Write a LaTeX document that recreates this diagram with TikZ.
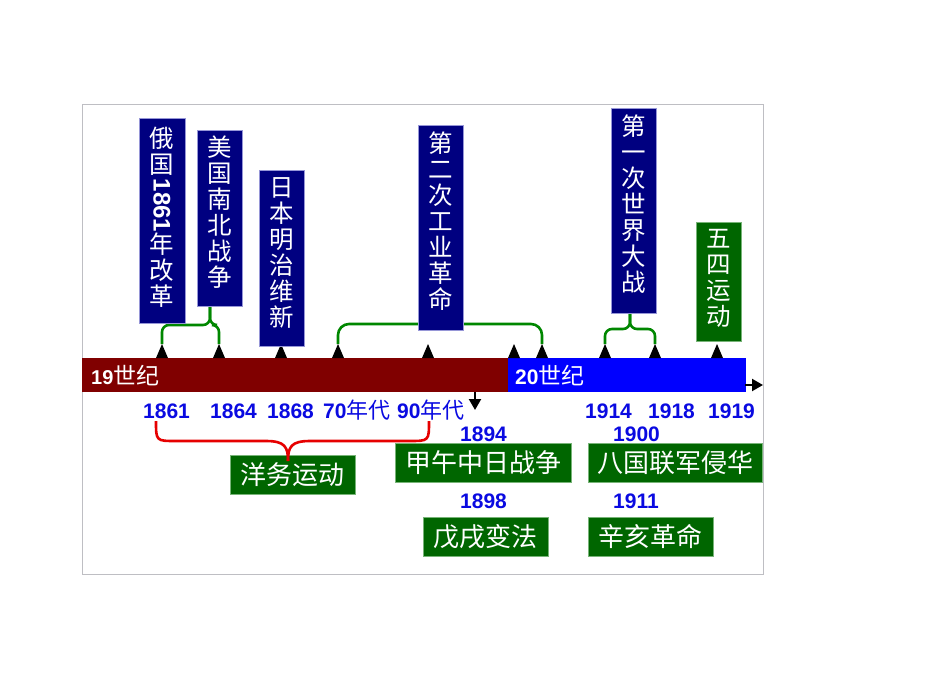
\documentclass[tikz,border=0pt]{standalone}
\usepackage{fontspec}
\setmainfont{Liberation Sans}
\newfontfamily\cjk{Noto Sans CJK SC}
\newfontfamily\lat{Liberation Sans}
\usepackage{graphicx}
\usetikzlibrary{arrows.meta}
\definecolor{barred}{RGB}{128,0,0}
\definecolor{barblue}{RGB}{0,0,255}
\definecolor{navy}{RGB}{0,0,128}
\definecolor{navyedge}{RGB}{150,150,215}
\definecolor{boxgreen}{RGB}{0,102,0}
\definecolor{greenedge}{RGB}{120,180,120}
\definecolor{brgreen}{RGB}{0,135,0}
\definecolor{bracered}{RGB}{230,0,0}
\definecolor{yearblue}{RGB}{10,10,225}
\definecolor{framegray}{RGB}{190,190,195}
\tikzset{
  navybox/.style={fill=navy, draw=navyedge, line width=0.8pt, inner sep=0pt, outer sep=0pt},
  greenbox/.style={fill=boxgreen, draw=greenedge, line width=0.8pt, inner sep=0pt, outer sep=0pt},
  vtext/.style={text=white, font=\cjk\fontsize{24.5}{26}\selectfont, align=center, inner sep=0pt},
  htext/.style={text=white, font=\cjk\fontsize{26}{26}\selectfont, inner sep=0pt},
  yr/.style={text=yearblue, font=\lat\bfseries\fontsize{21}{21}\selectfont, inner sep=0pt, anchor=base west},
  barlbl/.style={text=white, font=\lat\bfseries\fontsize{21}{21}\selectfont, inner sep=0pt, anchor=base west},
  brk/.style={draw=brgreen, line width=2.6pt, rounded corners=7pt},
  bracepath/.style={draw=bracered, line width=2.6pt},
  tipmark/.style={fill=black},
  arr/.style={draw=black, line width=2.2pt, -{Triangle[length=11pt,width=12pt]}},
}
\newcommand\tipat[1]{\fill[tipmark] (#1) -- ++(-6,14) -- ++(12,0) -- cycle;}
\begin{document}
\begin{tikzpicture}[x=1pt,y=-1pt]
\useasboundingbox (0,0) rectangle (950,672);
\fill[white] (0,0) rectangle (950,672);
\draw[framegray, line width=1pt] (82,104) rectangle (763,574);

% timeline bars
\node[fill=barred, minimum width=426pt, minimum height=34pt, inner sep=0pt, outer sep=0pt, anchor=north west] (bar19) at (82,358) {};
\node[fill=barblue, minimum width=238pt, minimum height=34pt, inner sep=0pt, outer sep=0pt, anchor=north west] (bar20) at (508,358) {};
\node[barlbl] (c19) at (91,384) {{\fontsize{20}{20}\selectfont 19}{\cjk\mdseries\fontsize{23}{23}\selectfont 世纪}};
\node[barlbl] (c20) at (515,384) {20{\cjk\mdseries\fontsize{23}{23}\selectfont 世纪}};

% arrows
\coordinate (arrS) at (745,385);
\coordinate (arrE) at (763,385);
\draw[arr] (arrS) -- (arrE);
\coordinate (dnS) at (475,392);
\coordinate (dnE) at (475,410);
\draw[arr] (dnS) -- (dnE);

% tick marks (apex coordinates)
\coordinate (t1) at (162,344);
\coordinate (t2) at (219,344);
\coordinate (t3) at (281,344);
\coordinate (t4) at (338,344);
\coordinate (t5) at (428,344);
\coordinate (t6) at (514,344);
\coordinate (t7) at (542,344);
\coordinate (t8) at (605,344);
\coordinate (t9) at (655,344);
\coordinate (t10) at (717,344);

% green brackets
\coordinate (s1) at (210,306);
\draw[brk] (s1) -- (210,325) -- (162,325) -- (t1);
\draw[brk] (s1) -- (210,325) -- (219,325) -- (t2);
\draw[brk, rounded corners=11pt] (t4) -- (338,324) -- (542,324) -- (t7);
\coordinate (s5) at (630,313);
\draw[brk] (s5) -- (630,329) -- (605,329) -- (t8);
\draw[brk] (s5) -- (630,329) -- (655,329) -- (t9);

\foreach \t in {t1,t2,t3,t4,t5,t6,t7,t8,t9,t10} {\tipat{\t}}

% upper boxes
\node[navybox, minimum width=46pt, minimum height=205pt] (b1) at (162,220.5) {};
\node[vtext] (b1t) at (b1.center) [yshift=3pt] {俄\\国\\[-21pt]\rotatebox{-90}{\lat\bfseries\fontsize{24}{24}\selectfont 1861}\\年\\改\\革};
\node[navybox, minimum width=45pt, minimum height=176pt] (b2) at (219.5,218) {};
\node[vtext] (b2t) at (b2.center) [yshift=6pt] {美\\国\\南\\北\\战\\争};
\node[navybox, minimum width=45pt, minimum height=176pt] (b3) at (281.5,258) {};
\node[vtext] (b3t) at (b3.center) [yshift=5pt] {日\\本\\明\\治\\维\\新};
\node[navybox, minimum width=45pt, minimum height=205pt] (b4) at (440.5,227.5) {};
\node[vtext] (b4t) at (b4.center) [yshift=6pt] {第\\二\\次\\工\\业\\革\\命};
\node[navybox, minimum width=45pt, minimum height=205pt] (b5) at (633.5,210.5) {};
\node[vtext] (b5t) at (b5.center) [yshift=6pt] {第\\一\\次\\世\\界\\大\\战};
\node[greenbox, minimum width=45pt, minimum height=119pt] (b6) at (718.5,281.5) {};
\node[vtext] (b6t) at (b6.center) [yshift=3pt] {五\\四\\运\\动};

% year labels
\node[yr] (y1861) at (143,418) {1861};
\node[yr] (y1864) at (210,418) {1864};
\node[yr] (y1868) at (267,418) {1868};
\node[yr] (y70) at (323,418) {70{\cjk\mdseries\fontsize{22}{22}\selectfont 年代}};
\node[yr] (y90) at (397,418) {90{\cjk\mdseries\fontsize{22}{22}\selectfont 年代}};
\node[yr] (y1914) at (585,418) {1914};
\node[yr] (y1918) at (648,418) {1918};
\node[yr] (y1919) at (708,418) {1919};
\node[yr] (y1894) at (460,441) {1894};
\node[yr] (y1900) at (613,441) {1900};
\node[yr] (y1898) at (460,508) {1898};
\node[yr] (y1911) at (613,508) {1911};

% lower boxes
\node[greenbox, minimum width=125pt, minimum height=39pt] (g1) at (292.5,474.5) {};
\node[htext] (g1t) at (g1.center) {洋务运动};
\node[greenbox, minimum width=176pt, minimum height=39pt] (g2) at (483,462.5) {};
\node[htext] (g2t) at (g2.center) {甲午中日战争};
\node[greenbox, minimum width=125pt, minimum height=39pt] (g3) at (485.5,536.5) {};
\node[htext] (g3t) at (g3.center) {戊戌变法};
\node[greenbox, minimum width=174pt, minimum height=39pt] (g4) at (675,462.5) {};
\node[htext] (g4t) at (g4.center) {八国联军侵华};
\node[greenbox, minimum width=125pt, minimum height=39pt] (g5) at (650.5,536.5) {};
\node[htext] (g5t) at (g5.center) {辛亥革命};

% red brace
\coordinate (rbL) at (156,421);
\coordinate (rbR) at (429,421);
\coordinate (rbT) at (288,461);
\draw[bracepath] (rbL) .. controls (156,441) and (156,441) .. (176,441) -- (266,441) .. controls (285,441) and (288,447) .. (rbT);
\draw[bracepath] (rbT) .. controls (288,447) and (291,441) .. (310,441) -- (409,441) .. controls (429,441) and (429,441) .. (rbR);
\end{tikzpicture}
\end{document}
